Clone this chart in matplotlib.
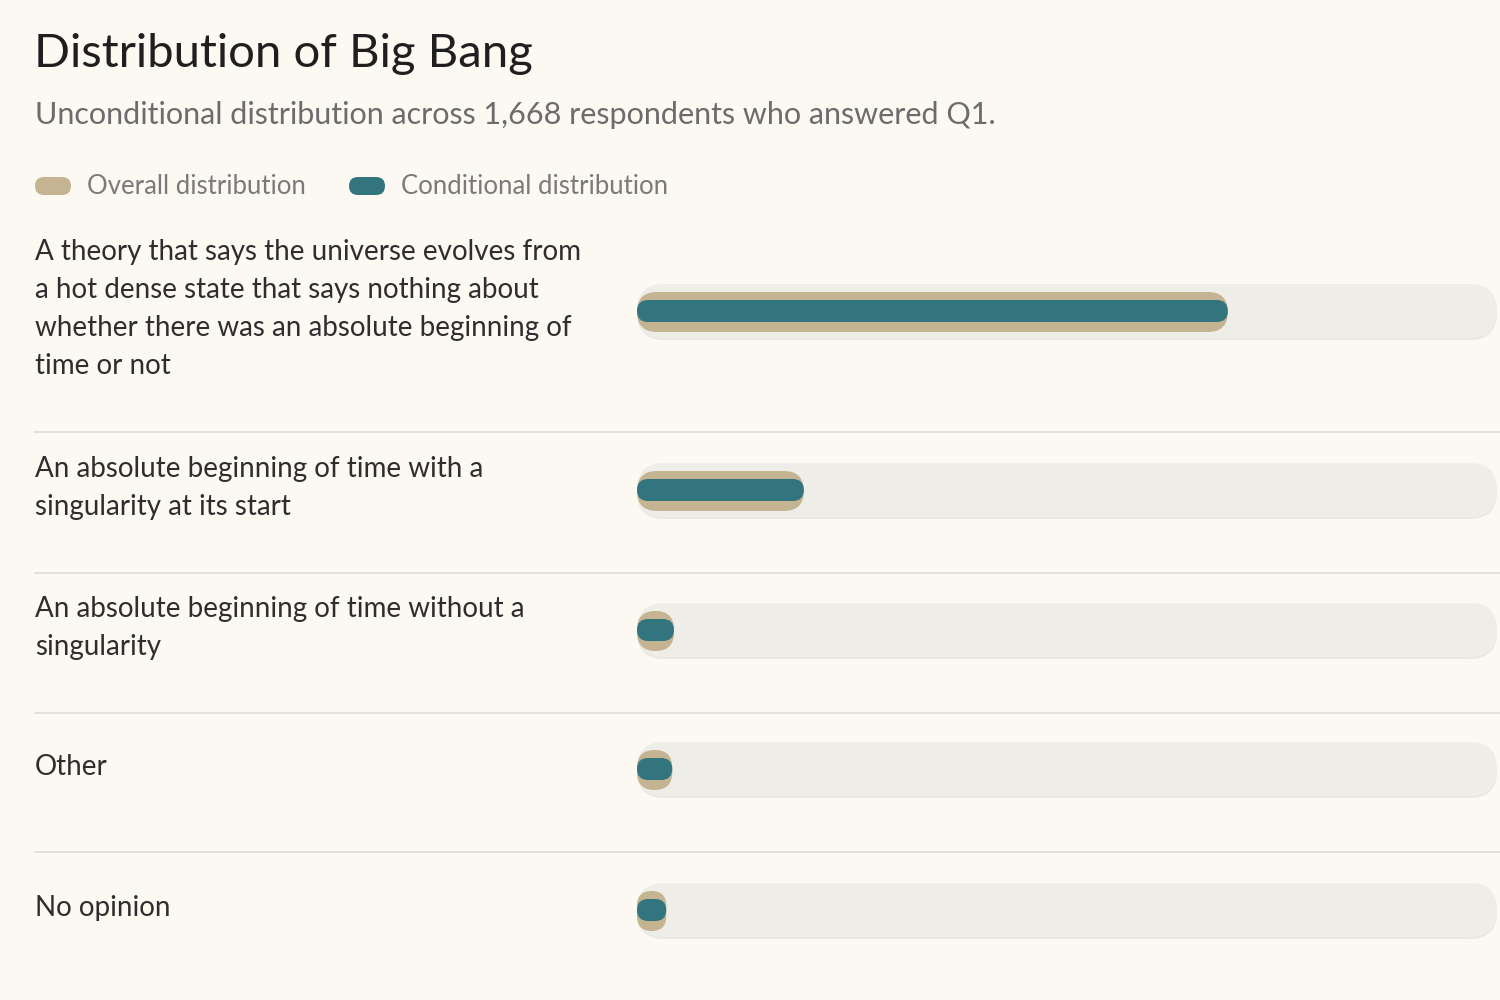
import matplotlib.pyplot as plt
from matplotlib.patches import FancyBboxPatch

# data
labels = [
    "A theory that says the universe evolves from\na hot dense state that says nothing about\nwhether there was an absolute beginning of\ntime or not",
    "An absolute beginning of time with a\nsingularity at its start",
    "An absolute beginning of time without a\nsingularity",
    "Other",
    "No opinion",
]
overall = [68.7, 19.4, 4.3, 4.1, 3.4]       # percent of respondents
conditional = [68.7, 19.4, 4.3, 4.1, 3.4]   # same set, no condition applied

title = "Distribution of Big Bang"
subtitle = "Unconditional distribution across 1,668 respondents who answered Q1."
legend_labels = ["Overall distribution", "Conditional distribution"]

# style
bg = "#fcf9f3"
tan = "#c4b492"
teal = "#32757f"
track = "#efede8"
sep = "#e2ded6"
body_font = ["Lato", "DejaVu Sans"]

# layout (pixels, figure is 1500 x 1000)
row_y = [311, 490, 630, 769, 910]
sep_y = [432, 573, 713, 852]
bar_left, bar_right = 637, 1497
line_gap = 38

fig = plt.figure(figsize=(15, 10), dpi=100, facecolor=bg)
base = fig.add_axes([0, 0, 1, 1])
base.set_xlim(0, 1500)
base.set_ylim(1000, 0)
base.axis("off")

base.text(34, 54, title, fontsize=34, color="#1f1f1f", va="center",
          family=body_font)
base.text(35, 115, subtitle, fontsize=22, color="#6c6c6c", va="center",
          family=body_font)

# legend pills
for x0, lab, col in [(35, legend_labels[0], tan), (349, legend_labels[1], teal)]:
    base.add_patch(FancyBboxPatch((x0, 177), 36, 18,
                                  boxstyle="round,pad=0,rounding_size=9",
                                  fc=col, ec="none"))
    base.text(x0 + 52, 186, lab, fontsize=18.5, color="#7a7a7a", va="center",
              family=body_font)

for y in sep_y:
    base.plot([35, 1500], [y, y], color=sep, lw=1.3)

for lab, y in zip(labels, row_y):
    lines = lab.split("\n")
    n = len(lines)
    for i, ln in enumerate(lines):
        base.text(35, y - 2 + (i - (n - 1) / 2) * line_gap, ln, fontsize=20,
                  color="#2e2e2e", va="center", family=body_font)

# bar axes: x in percent, y in pixels
ax = fig.add_axes([bar_left / 1500, 0, (bar_right - bar_left) / 1500, 1])
ax.set_xlim(0, 100)
ax.set_ylim(1000, 0)
ax.axis("off")
px_per_pct = (bar_right - bar_left) / 100


def pill(x, y, w, h, color, z):
    # rounded bar like css border-radius: radius = min(w, h) / 2 in pixels
    r_px = min(w * px_per_pct, h) / 2
    p = FancyBboxPatch((x, y - h / 2), w, h,
                       boxstyle=f"round,pad=0,rounding_size={r_px / px_per_pct}",
                       mutation_aspect=px_per_pct, fc=color, ec="none", zorder=z)
    ax.add_patch(p)


for y, ov, co in zip(row_y, overall, conditional):
    pill(0, y + 2, 100, 54, "#ebe8e2", 1)
    pill(0, y, 100, 54, track, 1)
    pill(0, y + 1, ov, 40, tan, 2)
    pill(0, y, co, 22, teal, 3)

fig.savefig("out.png", dpi=100, facecolor=bg)
